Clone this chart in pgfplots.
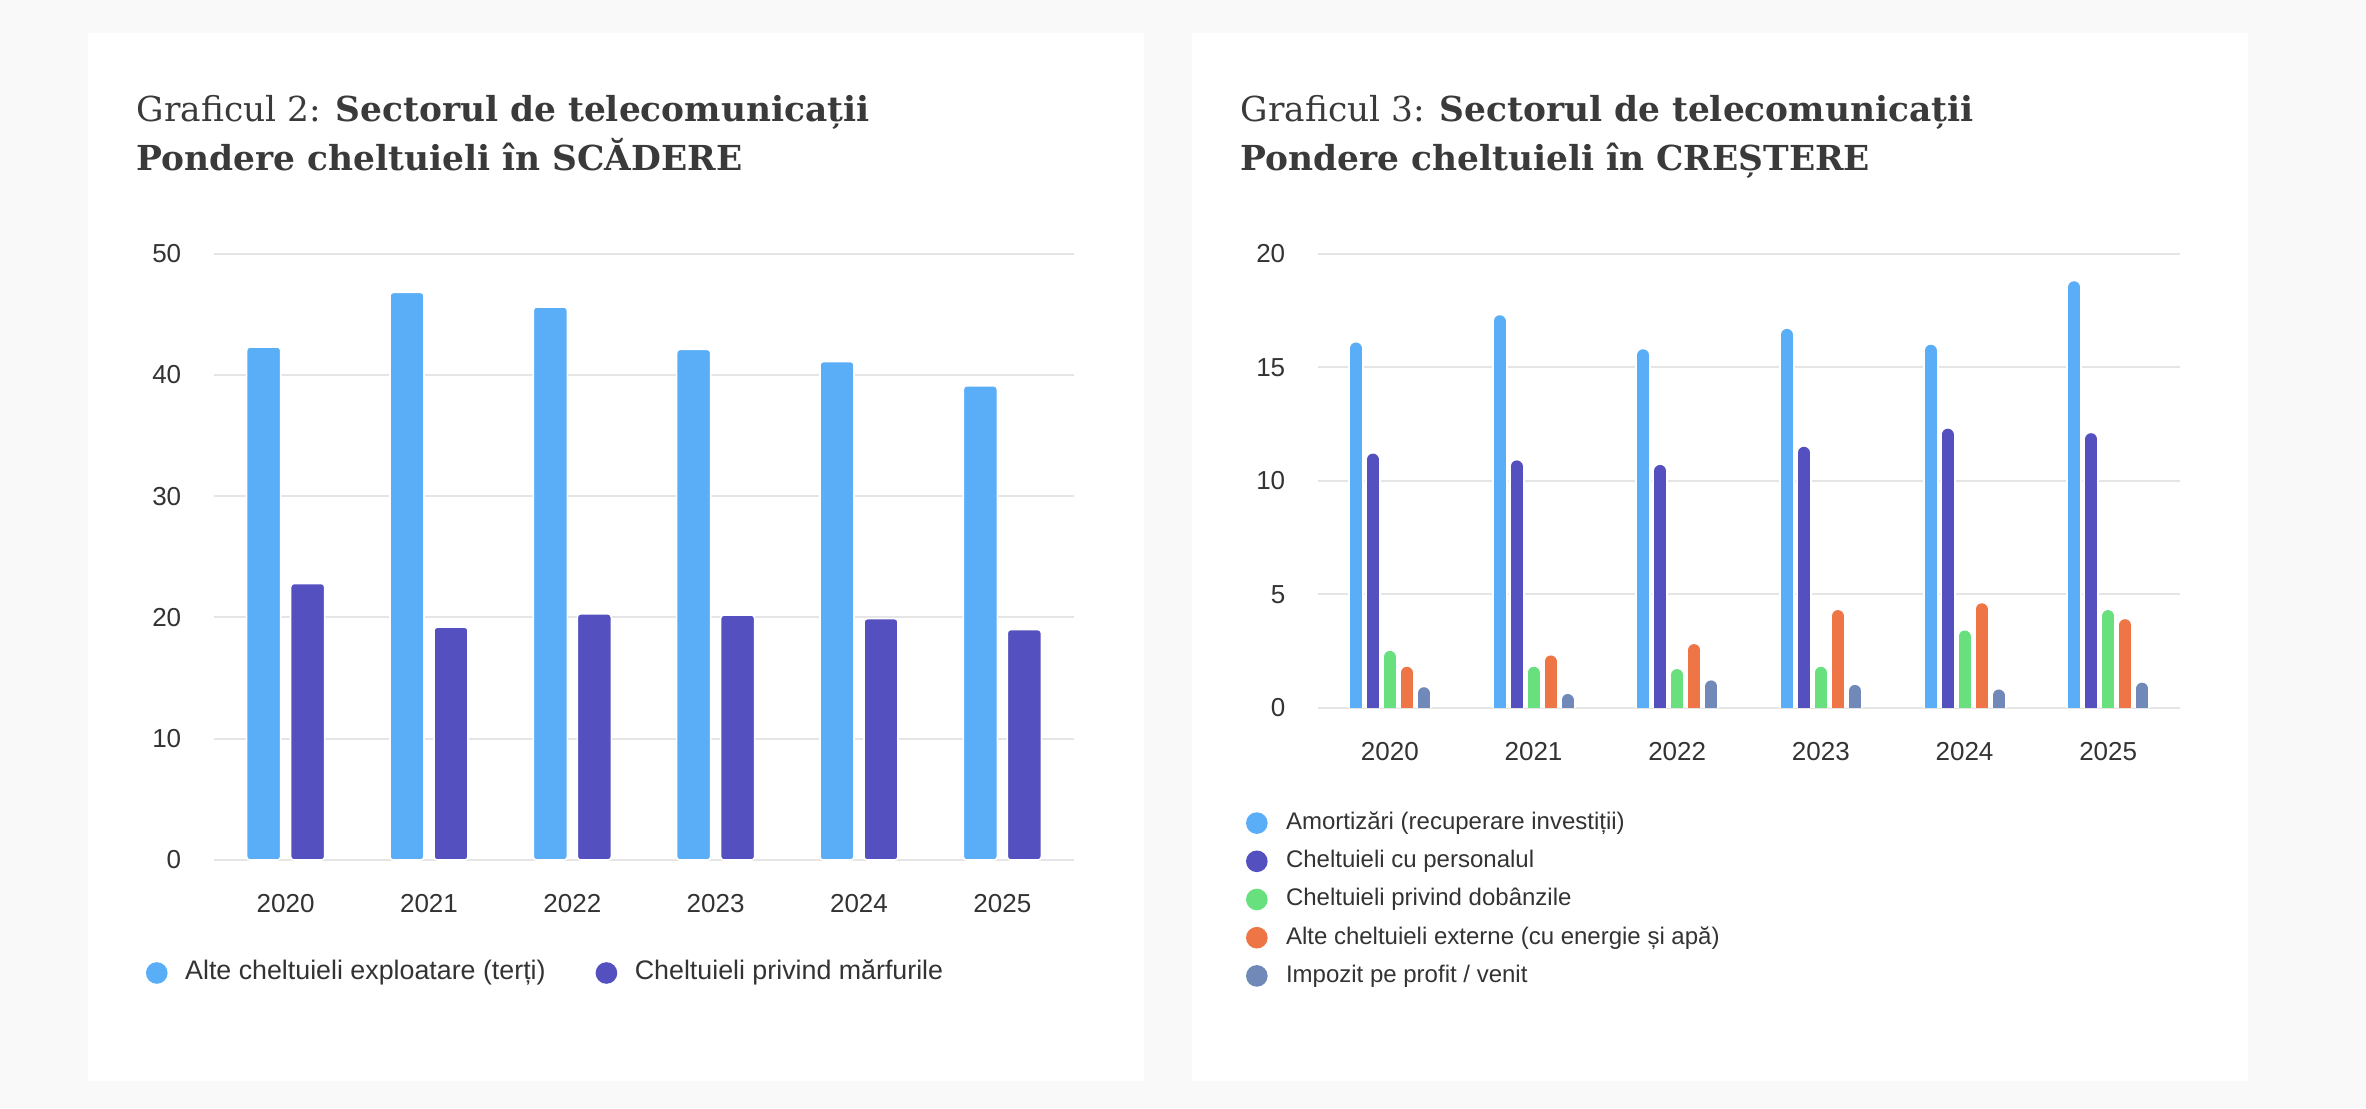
\documentclass[border=0pt]{standalone}
\usepackage{fontspec}
\setmainfont{Liberation Sans}
\newfontfamily\titlefont{DejaVu Serif}
\usepackage{pgfplots}
\usepackage{pgfplotstable}
\pgfplotsset{compat=1.18}

\definecolor{pagebg}{HTML}{F9F9F9}
\definecolor{gridc}{HTML}{E5E5E5}
\definecolor{textc}{HTML}{333333}
\definecolor{titlec}{HTML}{3A3A3A}
\definecolor{cblue}{HTML}{5AADF7}
\definecolor{cpurple}{HTML}{5450BF}
\definecolor{cgreen}{HTML}{68E07E}
\definecolor{corange}{HTML}{EE7546}
\definecolor{cslate}{HTML}{7189B9}

% Graficul 2: share of expenses, decreasing
\pgfplotstableread{
x  terti  marfuri
0  42.3   22.8
1  46.8   19.2
2  45.6   20.3
3  42.1   20.2
4  41.1   19.9
5  39.1   19.0
}\gdoi

% Graficul 3: share of expenses, increasing
\pgfplotstableread{
x  amort  pers  dob  ext  imp
0  16.1   11.2  2.5  1.8  0.9
1  17.3   10.9  1.8  2.3  0.6
2  15.8   10.7  1.7  2.8  1.2
3  16.7   11.5  1.8  4.3  1.0
4  16.0   12.3  3.4  4.6  0.8
5  18.8   12.1  4.3  3.9  1.1
}\gtrei

\pgfplotsset{
  panel/.style={
    scale only axis,
    anchor=south west,
    axis line style={draw=none},
    tick style={draw=none},
    major tick length=0pt,
    ymajorgrids,
    grid style={color=gridc, line width=0.5pt},
    ymin=0, xmin=-0.5, xmax=5.5,
    xtick={0,1,2,3,4,5},
    xticklabels={2020,2021,2022,2023,2024,2025},
    /pgf/number format/assume math mode=true,
    ticklabel style={font=\fontsize{6.5}{7.5}\selectfont, text=textc},
    xticklabel style={anchor=center, inner sep=0pt, yshift=-11pt},
    yticklabel style={anchor=east, inner sep=0pt, xshift=-8pt},
    legend style={draw=none, fill=none, inner sep=0pt, outer sep=0pt,
      text=textc, nodes={inner sep=0pt}, cells={anchor=west}},
  },
  dot/.style={legend image code/.code={\fill[#1] (0pt,0pt) circle (2.5pt);}},
  flatbar/.style={ybar, bar width=8.5pt, fill=#1, draw=white, line width=0.4pt,
    rounded corners=0.8pt, forget plot},
  pill/.style={ycomb, draw=#1, line width=3pt, line cap=round, mark=none,
    yshift=-1.5pt, forget plot},
  pillgap/.style={ycomb, draw=white, line width=4pt, line cap=round, mark=none,
    yshift=-1.5pt, forget plot},
}

\begin{document}
\begin{tikzpicture}
\useasboundingbox (0,0) rectangle (591.5pt,277pt);
\fill[pagebg] (0,0) rectangle (591.5pt,277pt);
\fill[white] (22pt,6.75pt) rectangle (286pt,268.75pt);
\fill[white] (298pt,6.75pt) rectangle (562pt,268.75pt);

\begin{scope}[every node/.style={anchor=base west, inner sep=0pt, text=titlec,
    font=\titlefont\fontsize{8.6}{10}\selectfont}]
  \node at (34pt,246.6pt) {Graficul 2: \textbf{Sectorul de telecomunicații}};
  \node at (34pt,234.4pt) {\textbf{Pondere cheltuieli în SCĂDERE}};
  \node at (310pt,246.6pt) {Graficul 3: \textbf{Sectorul de telecomunicații}};
  \node at (310pt,234.4pt) {\textbf{Pondere cheltuieli în CREȘTERE}};
\end{scope}

\begin{axis}[panel,
  at={(53.5pt,62pt)}, width=215pt, height=151.6pt,
  ymax=50, ytick={0,10,20,30,40,50},
  legend columns=2,
  legend style={at={(axis description cs:-0.0791,-0.1863)}, anchor=west,
    font=\fontsize{6.7}{8}\selectfont,
    /tikz/every odd column/.append style={column sep=4.4pt},
    /tikz/every even column/.append style={column sep=12.5pt}},
]
\addplot[flatbar=cblue, bar shift=-5.5pt] table[x=x, y=terti] {\gdoi};
\addplot[flatbar=cpurple, bar shift=5.5pt] table[x=x, y=marfuri] {\gdoi};
\addlegendimage{dot=cblue}
\addlegendentry{Alte cheltuieli exploatare (terți)}
\addlegendimage{dot=cpurple}
\addlegendentry{Cheltuieli privind mărfurile}
\end{axis}

\begin{axis}[panel,
  at={(329.5pt,100.1pt)}, width=215.5pt, height=113.4pt,
  ymax=20, ytick={0,5,10,15,20},
  legend columns=1,
  legend style={at={(axis description cs:-0.0835,-0.2299)}, anchor=north west,
    font=\fontsize{6}{7}\selectfont,
    row sep=3.95pt,
    nodes={text height=4.4pt, text depth=1.2pt},
    /tikz/every odd column/.append style={column sep=4.6pt}},
]
% white halos that break the grid lines around each bar
\addplot[pillgap, xshift=-8.5pt] table[x=x, y=amort] {\gtrei};
\addplot[pillgap, xshift=-4.25pt] table[x=x, y=pers] {\gtrei};
\addplot[pillgap] table[x=x, y=dob] {\gtrei};
\addplot[pillgap, xshift=4.25pt] table[x=x, y=ext] {\gtrei};
\addplot[pillgap, xshift=8.5pt] table[x=x, y=imp] {\gtrei};
% the bars
\addplot[pill=cblue, xshift=-8.5pt] table[x=x, y=amort] {\gtrei};
\addplot[pill=cpurple, xshift=-4.25pt] table[x=x, y=pers] {\gtrei};
\addplot[pill=cgreen] table[x=x, y=dob] {\gtrei};
\addplot[pill=corange, xshift=4.25pt] table[x=x, y=ext] {\gtrei};
\addplot[pill=cslate, xshift=8.5pt] table[x=x, y=imp] {\gtrei};
\addlegendimage{dot=cblue}
\addlegendentry{Amortizări (recuperare investiții)}
\addlegendimage{dot=cpurple}
\addlegendentry{Cheltuieli cu personalul}
\addlegendimage{dot=cgreen}
\addlegendentry{Cheltuieli privind dobânzile}
\addlegendimage{dot=corange}
\addlegendentry{Alte cheltuieli externe (cu energie și apă)}
\addlegendimage{dot=cslate}
\addlegendentry{Impozit pe profit / venit}
\end{axis}
\end{tikzpicture}
\end{document}
